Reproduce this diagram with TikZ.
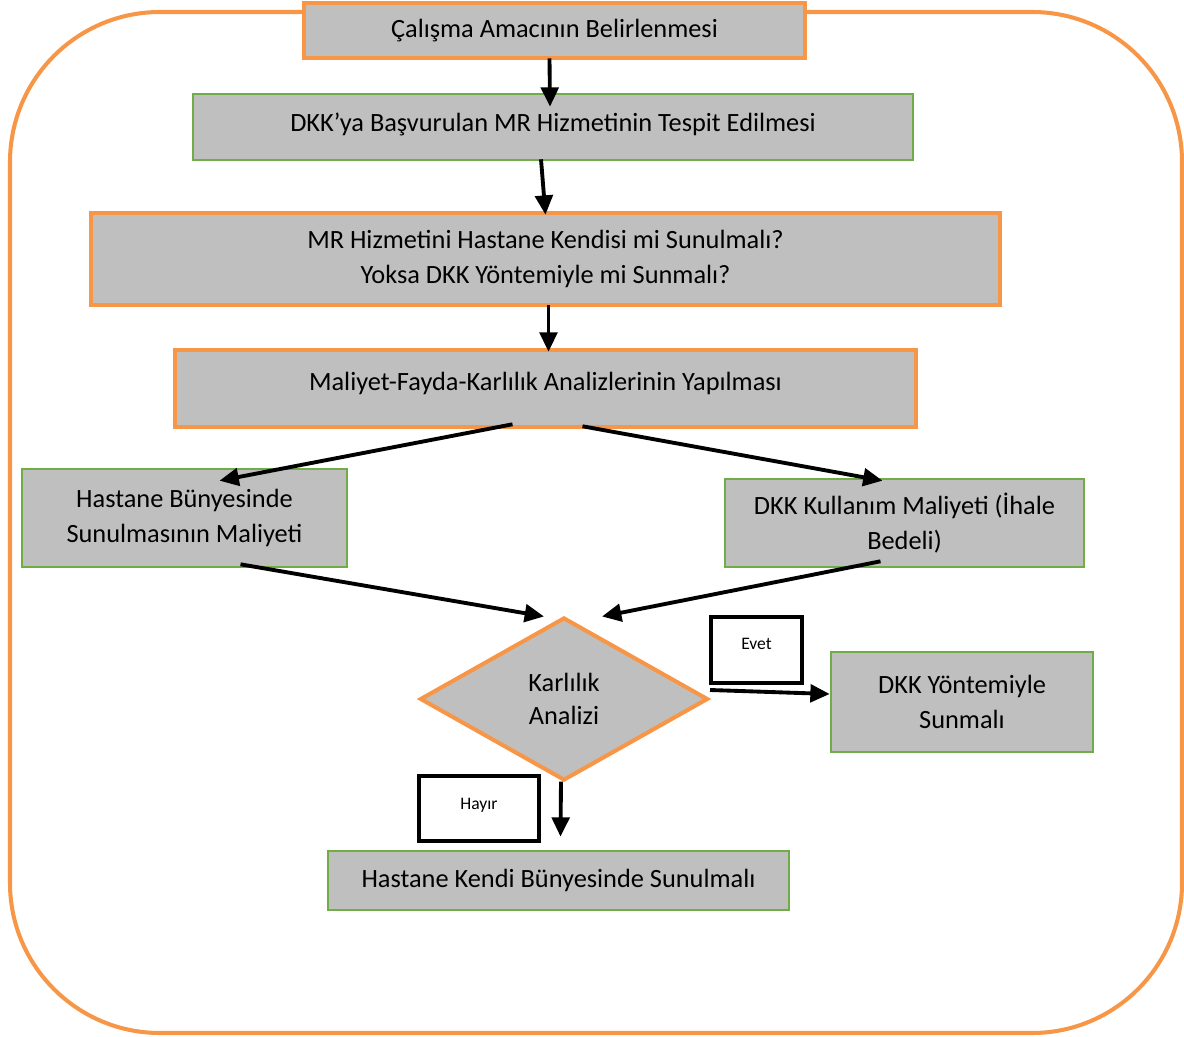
\documentclass[tikz,border=0pt]{standalone}
\usepackage{fontspec}
\setmainfont{Carlito}
\usetikzlibrary{arrows.meta,shapes.geometric,calc}
\definecolor{turuncu}{HTML}{F79646}
\definecolor{yesil}{HTML}{70AD47}
\definecolor{gri}{HTML}{BFBFBF}
\def\pxu{0.02cm}
\tikzset{
  kutu/.style={rectangle, fill=gri, draw=#1, align=center, inner sep=0pt,
               font=\fontsize{15}{19.5}\selectfont},
  kutu/.default={yesil},
  tkutu/.style={kutu=turuncu, line width=2.6pt},
  ykutu/.style={kutu=yesil, line width=1.5pt},
  boyut/.style 2 args={minimum width=#1*\pxu, minimum height=#2*\pxu},
  etiket/.style={rectangle, draw=black, fill=white, line width=2.6pt,
                 font=\fontsize{10}{12}\selectfont},
  ok/.style={-{Triangle[length=11pt,width=10pt]}, line width=2.2pt, black},
}

\begin{document}
\begin{tikzpicture}[x=\pxu, y=-\pxu]
  \useasboundingbox (0,0) rectangle (1184,1037);
  % outer frame
  \draw[turuncu, line width=2.3pt, rounded corners=3cm] (10,12) rectangle (1182,1033);
  % main steps
  \node[tkutu, boyut={501}{55}] (amac) at (554.5,30.5) {Çalışma Amacının Belirlenmesi};
  \node[ykutu, boyut={720}{66}, text depth=6pt] (tespit) at (553,127) {DKK’ya Başvurulan MR Hizmetinin Tespit Edilmesi};
  \node[tkutu, boyut={909}{92}] (karar) at (545.5,259) {MR Hizmetini Hastane Kendisi mi Sunulmalı?\\Yoksa DKK Yöntemiyle mi Sunmalı?};
  \node[tkutu, boyut={741}{77}, text depth=8.5pt] (analiz) at (545.5,388.5) {Maliyet-Fayda-Karlılık Analizlerinin Yapılması};
  % two costs
  \node[ykutu, boyut={325}{98}] (hastane) at (184.5,518) {Hastane Bünyesinde\\Sunulmasının Maliyeti};
  \node[ykutu, boyut={359}{88}] (kullanim) at (904.5,523) {DKK Kullanım Maliyeti (İhale\\Bedeli)};
  % decision
  \node[diamond, fill=gri, draw=turuncu, line width=2.3pt, inner sep=0pt,
        boyut={288}{163}, align=center, font=\fontsize{15}{18.7}\selectfont]
        (karlilik) at (564,699) {Karlılık\\Analizi};
  \node[ykutu, boyut={262}{100}] (yontem) at (962,702) {DKK Yöntemiyle\\Sunmalı};
  \node[ykutu, boyut={461}{59}] (kendi) at (558.5,880.5) {Hastane Kendi Bünyesinde Sunulmalı};
  % answers
  \node[etiket, boyut={91}{66}, text depth=7pt] (evet) at (756.5,650) {Evet};
  \node[etiket, boyut={120}{65}, text depth=5pt] (hayir) at (479,808.5) {Hayır};
  % connectors
  \draw[ok] ($(amac.south)+(-5,-2)$) -- ($(tespit.north)+(-3,14)$);
  \draw[ok] ($(tespit.south)+(-12,-2)$) -- ($(karar.north)+(0,4)$);
  \draw[ok] ($(karar.south)+(3,-2)$) -- ($(analiz.north)+(3,4)$);
  \draw[ok] ($(analiz.south)+(-33,-5)$) -- ($(hastane.north)+(35,13)$);
  \draw[ok] ($(analiz.south)+(37,-3)$) -- ($(kullanim.north)+(-22,3)$);
  \draw[ok] ($(hastane.south)+(56,-4)$) -- ($(karlilik.north)+(-20,1)$);
  \draw[ok] ($(kullanim.south)+(-24,-7)$) -- ($(karlilik.north)+(38,1)$);
  \draw[ok] ($(karlilik.east)+(0,-9)$) -- ($(yontem.west)+(0,-8)$);
  \draw[ok] ($(karlilik.south)+(-3,-1)$) -- ($(kendi.north)+(2,-13)$);
\end{tikzpicture}
\end{document}
